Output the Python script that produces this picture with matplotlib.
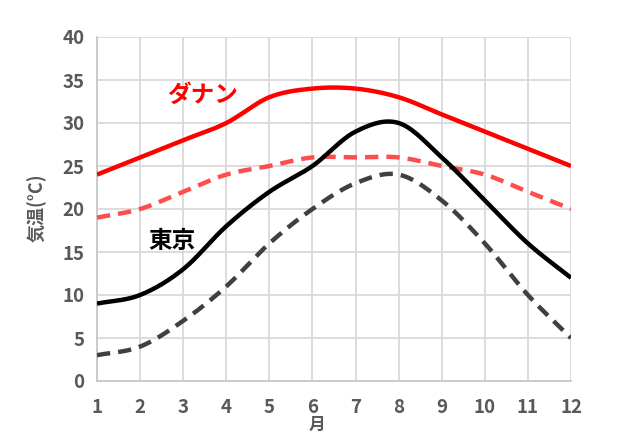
import numpy as np
import matplotlib
matplotlib.use("Agg")
import matplotlib.pyplot as plt

plt.rcParams['font.family'] = ['Noto Sans CJK JP', 'DejaVu Sans']

months = [1, 2, 3, 4, 5, 6, 7, 8, 9, 10, 11, 12]
danang_high = [24, 26, 28, 30, 33, 34, 34, 33, 31, 29, 27, 25]
danang_low = [19, 20, 22, 24, 25, 26, 26, 26, 25, 24, 22, 20]
tokyo_high = [9, 10, 13, 18, 22, 25, 29, 30, 26, 21, 16, 12]
tokyo_low = [3, 4, 7, 11, 16, 20, 23, 24, 21, 16, 10, 5]


def smooth(x, y, n=30):
    x = np.asarray(x, float)
    y = np.asarray(y, float)
    px = np.concatenate([[2 * x[0] - x[1]], x, [2 * x[-1] - x[-2]]])
    py = np.concatenate([[2 * y[0] - y[1]], y, [2 * y[-1] - y[-2]]])
    xs, ys = [], []
    for i in range(1, len(px) - 2):
        t = np.linspace(0, 1, n, endpoint=False)
        for arr, out in ((px, xs), (py, ys)):
            p0, p1, p2, p3 = arr[i - 1], arr[i], arr[i + 1], arr[i + 2]
            out.append(0.5 * ((2 * p1) + (-p0 + p2) * t
                              + (2 * p0 - 5 * p1 + 4 * p2 - p3) * t ** 2
                              + (-p0 + 3 * p1 - 3 * p2 + p3) * t ** 3))
    xs.append([x[-1]])
    ys.append([y[-1]])
    return np.concatenate(xs), np.concatenate(ys)


fig = plt.figure(figsize=(6.21, 4.34), dpi=100)
ax = fig.add_axes([97 / 621, 1 - 381 / 434, (571 - 97) / 621, (381 - 37) / 434])

series = [
    (danang_low, '#ff4d4d', (3, 1.8)),
    (tokyo_low, '#404040', (3, 1.8)),
    (danang_high, '#ff0000', None),
    (tokyo_high, '#000000', None),
]
for vals, col, dash in series:
    sx, sy = smooth(months, vals)
    if dash:
        ax.plot(sx, sy, color=col, lw=3.2, dashes=dash, dash_capstyle='butt', zorder=3)
    else:
        ax.plot(sx, sy, color=col, lw=3.2, solid_capstyle='butt', zorder=3)

ax.set_xlim(1, 12)
ax.set_ylim(0, 40)
ax.set_xticks(months)
ax.set_yticks(range(0, 41, 5))
ax.grid(True, color='#d9d9d9', lw=1.3)
ax.set_axisbelow(True)
for s in ['top', 'right']:
    ax.spines[s].set_visible(False)
for s in ['left', 'bottom']:
    ax.spines[s].set_color('#c8c8c8')
    ax.spines[s].set_linewidth(1.3)
ax.tick_params(axis='y', length=0, labelsize=13.5, labelcolor='#595959', pad=9)
ax.tick_params(axis='x', length=0, labelsize=13.5, labelcolor='#595959', pad=12)
for lab in ax.get_xticklabels() + ax.get_yticklabels():
    lab.set_fontweight('bold')

fig.text(37 / 621, 1 - 208 / 434, '気温(°C)', fontsize=13, color='#595959',
         fontweight='bold', rotation=90, ha='center', va='center')
fig.text(317 / 621, 1 - 425 / 434, '月', fontsize=12, color='#595959',
         fontweight='bold', ha='center', va='center')

ax.text(3.46, 33.3, 'ダナン', color='#ff0000', fontsize=17, fontweight='bold',
        ha='center', va='center')
ax.text(2.74, 16.3, '東京', color='#000000', fontsize=17, fontweight='bold',
        ha='center', va='center')

fig.savefig('out.png', dpi=100)
